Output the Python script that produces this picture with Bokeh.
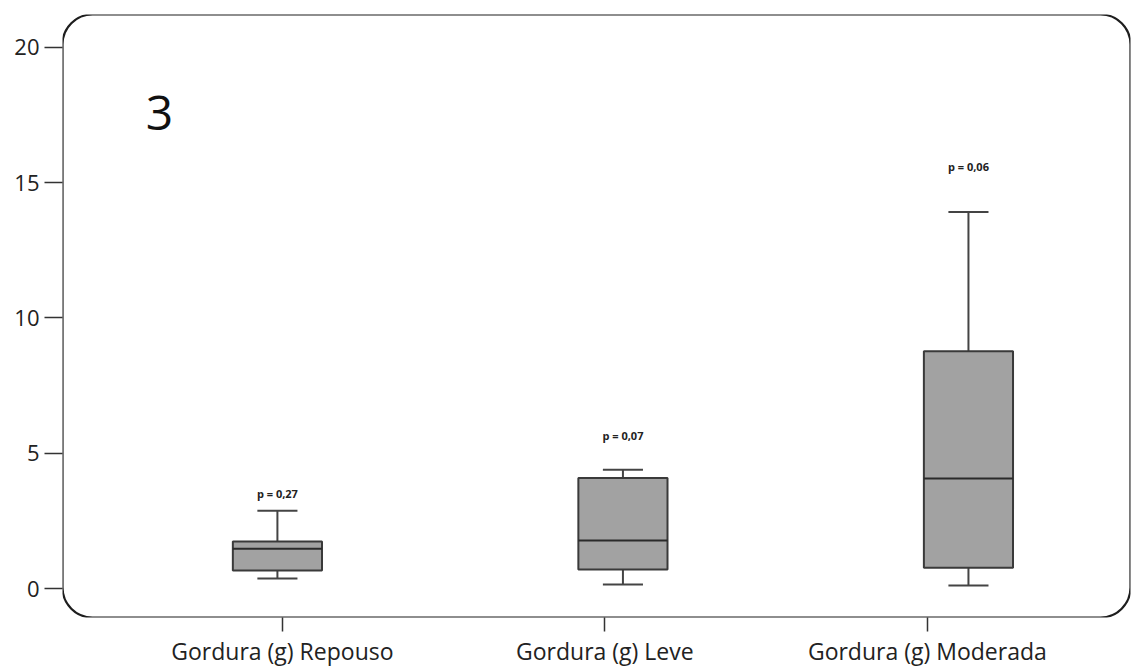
from bokeh.plotting import figure
from bokeh.models import BoxAnnotation, Range1d, LinearAxis, FixedTicker, Label
from bokeh.core.properties import value
from bokeh.embed import file_html
from bokeh.resources import INLINE

# ---- data ----
categories = ["Gordura (g) Repouso", "Gordura (g) Leve", "Gordura (g) Moderada"]
lower = [0.37, 0.15, 0.11]
q1 = [0.67, 0.71, 0.77]
median = [1.47, 1.78, 4.07]
q3 = [1.74, 4.09, 8.77]
upper = [2.88, 4.39, 13.92]
p_labels = ["p = 0,27", "p = 0,07", "p = 0,06"]
p_label_y = [3.5, 5.67, 15.6]
y_ticks = [0, 5, 10, 15, 20]

xs = [1, 2, 3]
box_w = 0.258
cap_w = 0.116
FONT = "Open Sans"

p = figure(width=1133, height=669,
           x_range=Range1d(0.378, 3.469), y_range=Range1d(-1.068, 21.215),
           output_backend="svg", toolbar_location=None,
           min_border_left=62, min_border_right=3, min_border_top=14,
           x_axis_location=None)
p.grid.grid_line_color = None
p.outline_line_color = None
p.background_fill_color = "white"
p.border_fill_color = "white"

# rounded frame
p.add_layout(BoxAnnotation(fill_color=None, fill_alpha=0, line_color="#1e1e1e",
                           line_alpha=1.0, line_width=2.2, border_radius=30,
                           level="overlay"))

# y axis
ya = p.yaxis[0]
ya.ticker = FixedTicker(ticks=y_ticks)
ya.axis_line_color = None
ya.major_tick_out = 18
ya.major_tick_in = 0
ya.major_tick_line_color = "#333333"
ya.major_tick_line_width = 1.5
ya.minor_tick_line_color = None
ya.major_label_standoff = 5
ya.major_label_text_font = FONT
ya.major_label_text_font_size = "22px"
ya.major_label_text_color = "#222222"

# bottom axis with category labels
p.extra_x_ranges = {"cat": Range1d(0.318, 3.630)}
xa = LinearAxis(x_range_name="cat", ticker=FixedTicker(ticks=xs),
                major_label_overrides={x: c for x, c in zip(xs, categories)})
xa.axis_line_color = None
xa.major_tick_out = 14
xa.major_tick_in = 0
xa.major_tick_line_color = "#333333"
xa.major_tick_line_width = 1.5
xa.minor_tick_line_color = None
xa.major_label_standoff = 3
xa.major_label_text_font = FONT
xa.major_label_text_font_size = "23px"
xa.major_label_text_color = "#222222"
p.add_layout(xa, "below")

# whiskers
p.segment(x0=xs, y0=q3, x1=xs, y1=upper, line_color="#444444", line_width=2)
p.segment(x0=xs, y0=q1, x1=xs, y1=lower, line_color="#444444", line_width=2)
p.segment(x0=[x - cap_w / 2 for x in xs], y0=upper, x1=[x + cap_w / 2 for x in xs], y1=upper,
          line_color="#444444", line_width=2)
p.segment(x0=[x - cap_w / 2 for x in xs], y0=lower, x1=[x + cap_w / 2 for x in xs], y1=lower,
          line_color="#444444", line_width=2)

# boxes
p.vbar(x=xs, width=box_w, bottom=q1, top=q3, fill_color="#a2a2a2",
       line_color="#3a3a3a", line_width=2)
# medians
p.segment(x0=[x - box_w / 2 for x in xs], y0=median, x1=[x + box_w / 2 for x in xs], y1=median,
          line_color="#2a2a2a", line_width=2)

# p-value labels
p.text(x=xs, y=p_label_y, text=p_labels, text_align="center", text_baseline="middle",
       text_font=value(FONT), text_font_size="11px", text_font_style="bold",
       text_color="#222222")

# panel number
p.add_layout(Label(x=0.659, y=17.57, text="3", text_align="center", text_baseline="middle",
                   text_font=FONT, text_font_size="48px", text_color="#111111"))

open("out.html", "w").write(file_html(p, INLINE))
